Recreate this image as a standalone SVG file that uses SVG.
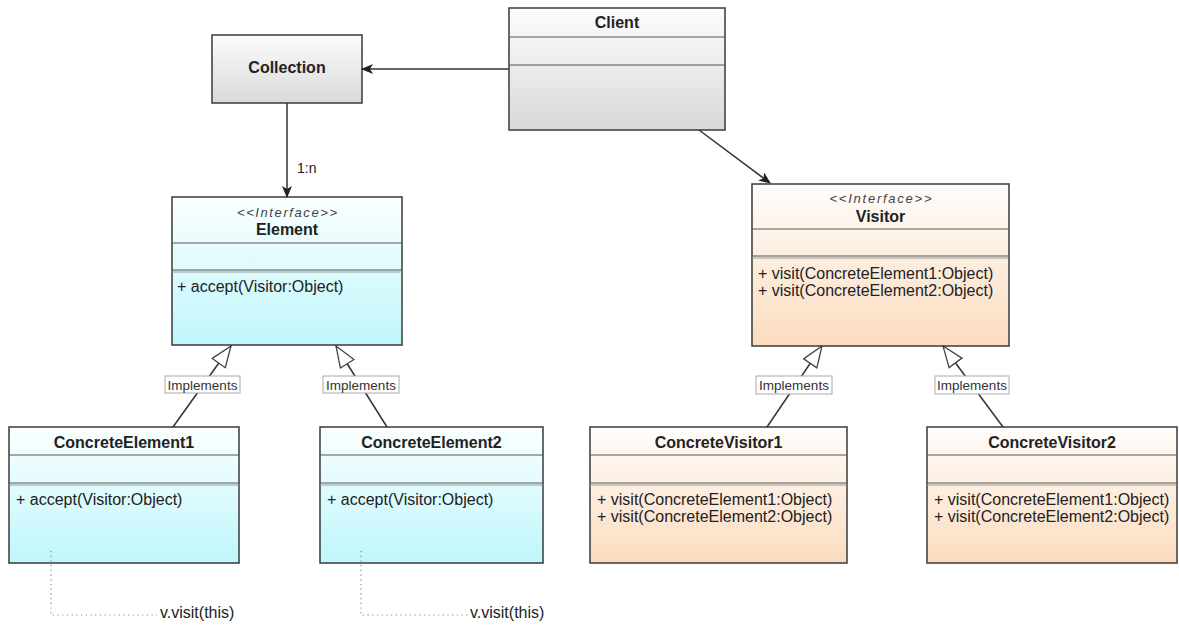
<svg xmlns="http://www.w3.org/2000/svg" width="1179" height="627" viewBox="0 0 1179 627">
<style>
  text { font-family: "Liberation Sans", Arial, Helvetica, sans-serif; fill: #222; }
  .title { font-size: 16px; font-weight: bold; text-anchor: middle; }
  .stereo { font-size: 13px; font-style: italic; text-anchor: middle; fill: #444; }
  .m { font-size: 16px; }
  .lbl { font-size: 13.5px; text-anchor: middle; fill: #333; }
  .box { stroke: #3a3a3a; stroke-width: 1.5; }
  .div { stroke: #555; stroke-width: 1; }
  .div2 { stroke: #999; stroke-width: 1; }
  .edge { stroke: #333; stroke-width: 1.5; fill: none; }
  .dot { stroke: #888; stroke-width: 1.2; fill: none; stroke-dasharray: 1.2 3.5; }
  .lbox { fill: #fff; stroke: #aaa; stroke-width: 1; }
</style>
<defs>
  <linearGradient id="gGray" x1="0" y1="0" x2="0" y2="1">
    <stop offset="0" stop-color="#fcfcfc"/>
    <stop offset="1" stop-color="#d9d9d9"/>
  </linearGradient>
  <linearGradient id="gCyan" x1="0" y1="0" x2="0" y2="1">
    <stop offset="0" stop-color="#fbffff"/>
    <stop offset="1" stop-color="#bff6fb"/>
  </linearGradient>
  <linearGradient id="gPeach" x1="0" y1="0" x2="0" y2="1">
    <stop offset="0" stop-color="#fffdfb"/>
    <stop offset="1" stop-color="#fbdcbf"/>
  </linearGradient>
  <marker id="arrow" viewBox="0 0 12 10" refX="11" refY="5" markerWidth="12" markerHeight="10" markerUnits="userSpaceOnUse" orient="auto">
    <path d="M0,0 L12,5 L0,10 L3,5 Z" fill="#222"/>
  </marker>
  <marker id="tri" viewBox="0 0 23 18" refX="22" refY="9" markerWidth="23" markerHeight="18" markerUnits="userSpaceOnUse" orient="auto">
    <path d="M1,1 L22,9 L1,17 Z" fill="#fff" stroke="#444" stroke-width="1.3"/>
  </marker>
</defs>
<rect width="1179" height="627" fill="#fff"/>

<g id="collection">
  <rect class="box" x="212" y="35" width="150" height="68" fill="url(#gGray)"/>
  <text class="title" x="287" y="73">Collection</text>
</g>

<g id="client">
  <rect class="box" x="509" y="8" width="216" height="122" fill="url(#gGray)"/>
  <line class="div" x1="509" y1="37" x2="725" y2="37"/>
  <line class="div" x1="509" y1="65" x2="725" y2="65"/>
  <text class="title" x="617" y="28">Client</text>
</g>

<g id="element">
  <rect class="box" x="172" y="197" width="230" height="148" fill="url(#gCyan)"/>
  <line class="div" x1="172" y1="243" x2="402" y2="243"/>
  <line class="div" x1="172" y1="270" x2="402" y2="270"/>
  <line class="div2" x1="172" y1="272" x2="402" y2="272"/>
  <text class="stereo" x="287" y="217" textLength="100" lengthAdjust="spacing">&lt;&lt;Interface&gt;&gt;</text>
  <text class="title" x="287" y="235">Element</text>
  <text class="m" x="177" y="292">+ accept(Visitor:Object)</text>
</g>

<g id="visitor">
  <rect class="box" x="752" y="184" width="257" height="162" fill="url(#gPeach)"/>
  <line class="div" x1="752" y1="229" x2="1009" y2="229"/>
  <line class="div" x1="752" y1="256" x2="1009" y2="256"/>
  <line class="div2" x1="752" y1="258" x2="1009" y2="258"/>
  <text class="stereo" x="880.5" y="203" textLength="102" lengthAdjust="spacing">&lt;&lt;Interface&gt;&gt;</text>
  <text class="title" x="880.5" y="222">Visitor</text>
  <text class="m" x="758" y="279">+ visit(ConcreteElement1:Object)</text>
  <text class="m" x="758" y="296">+ visit(ConcreteElement2:Object)</text>
</g>

<g id="concreteElement1">
  <rect class="box" x="9" y="427" width="230" height="136" fill="url(#gCyan)"/>
  <line class="div" x1="9" y1="455" x2="239" y2="455"/>
  <line class="div" x1="9" y1="483" x2="239" y2="483"/>
  <line class="div2" x1="9" y1="485" x2="239" y2="485"/>
  <text class="title" x="124" y="448">ConcreteElement1</text>
  <text class="m" x="16" y="505">+ accept(Visitor:Object)</text>
</g>

<g id="concreteElement2">
  <rect class="box" x="320" y="427" width="223" height="136" fill="url(#gCyan)"/>
  <line class="div" x1="320" y1="455" x2="543" y2="455"/>
  <line class="div" x1="320" y1="483" x2="543" y2="483"/>
  <line class="div2" x1="320" y1="485" x2="543" y2="485"/>
  <text class="title" x="431.5" y="448">ConcreteElement2</text>
  <text class="m" x="327" y="505">+ accept(Visitor:Object)</text>
</g>

<g id="concreteVisitor1">
  <rect class="box" x="590" y="427" width="257" height="136" fill="url(#gPeach)"/>
  <line class="div" x1="590" y1="455" x2="847" y2="455"/>
  <line class="div" x1="590" y1="483" x2="847" y2="483"/>
  <line class="div2" x1="590" y1="485" x2="847" y2="485"/>
  <text class="title" x="718.5" y="448">ConcreteVisitor1</text>
  <text class="m" x="597" y="505">+ visit(ConcreteElement1:Object)</text>
  <text class="m" x="597" y="522">+ visit(ConcreteElement2:Object)</text>
</g>

<g id="concreteVisitor2">
  <rect class="box" x="927" y="427" width="250" height="136" fill="url(#gPeach)"/>
  <line class="div" x1="927" y1="455" x2="1177" y2="455"/>
  <line class="div" x1="927" y1="483" x2="1177" y2="483"/>
  <line class="div2" x1="927" y1="485" x2="1177" y2="485"/>
  <text class="title" x="1052" y="448">ConcreteVisitor2</text>
  <text class="m" x="934" y="505">+ visit(ConcreteElement1:Object)</text>
  <text class="m" x="934" y="522">+ visit(ConcreteElement2:Object)</text>
</g>

<g id="connectors">
  <line class="edge" x1="509" y1="69" x2="362" y2="69" marker-end="url(#arrow)"/>
  <line class="edge" x1="287" y1="103" x2="287" y2="197" marker-end="url(#arrow)"/>
  <text x="297" y="173" style="font-size:14px" fill="#333">1:n</text>
  <line class="edge" x1="699" y1="130" x2="770" y2="183" marker-end="url(#arrow)"/>

  <line class="edge" x1="173" y1="427" x2="231" y2="346" marker-end="url(#tri)"/>
  <rect class="lbox" x="165" y="376" width="75" height="17"/>
  <text class="lbl" x="202.5" y="389.5">Implements</text>

  <line class="edge" x1="387" y1="427" x2="336" y2="346" marker-end="url(#tri)"/>
  <rect class="lbox" x="323" y="376" width="76" height="17"/>
  <text class="lbl" x="361" y="389.5">Implements</text>

  <line class="edge" x1="767" y1="427" x2="822" y2="346" marker-end="url(#tri)"/>
  <rect class="lbox" x="756" y="376" width="76" height="18"/>
  <text class="lbl" x="794" y="390">Implements</text>

  <line class="edge" x1="1003" y1="427" x2="943" y2="346" marker-end="url(#tri)"/>
  <rect class="lbox" x="935" y="376" width="74" height="18"/>
  <text class="lbl" x="972" y="390">Implements</text>

  <polyline class="dot" points="51,551 51,615 157,615"/>
  <text x="160" y="618" class="m" fill="#333">v.visit(this)</text>
  <polyline class="dot" points="361,551 361,615 468,615"/>
  <text x="470" y="618" class="m" fill="#333">v.visit(this)</text>
</g>
</svg>
